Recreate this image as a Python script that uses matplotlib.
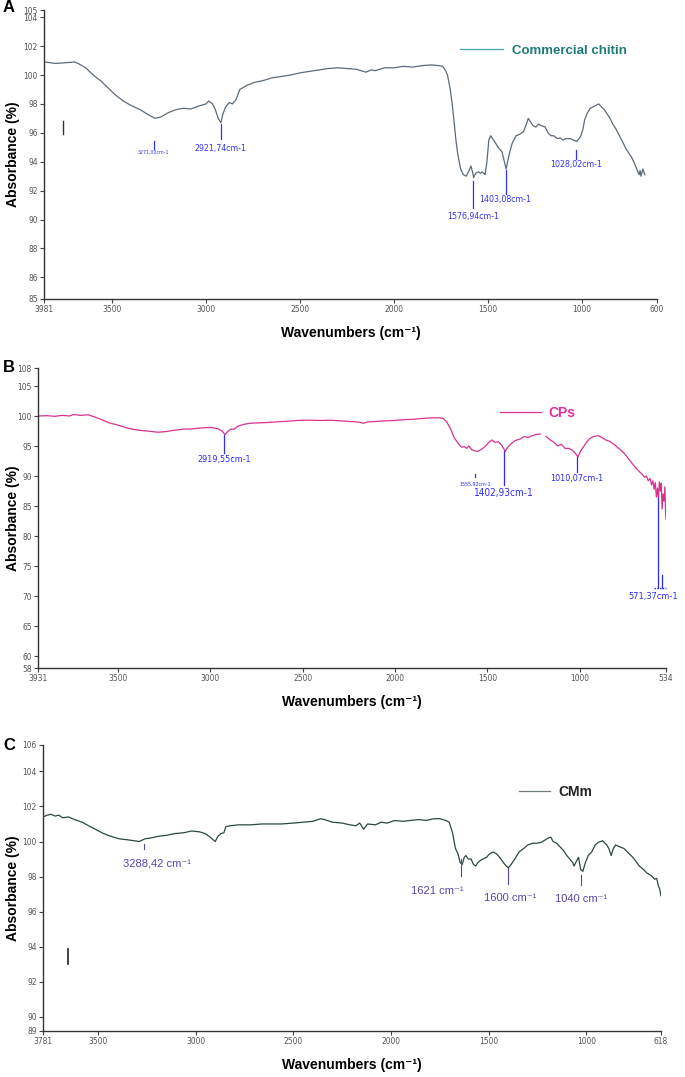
import numpy as np
import matplotlib
matplotlib.use("Agg")
import matplotlib.pyplot as plt
from matplotlib import font_manager

# ---- data: panel A (commercial chitin)
a_wn = [3855, 3800, 3750, 3700, 3680, 3640, 3600, 3560, 3520, 3480, 3440, 3400, 3350, 3300, 3271,
        3240, 3200, 3160, 3120, 3080, 3040, 3000, 2985, 2965, 2950, 2935, 2921, 2910, 2895, 2875,
        2860, 2840, 2820, 2780, 2740, 2700, 2650, 2600, 2550, 2500, 2450, 2400, 2350, 2300, 2250,
        2200, 2150, 2120, 2100, 2050, 2000, 1950, 1900, 1850, 1800, 1760, 1740, 1725, 1715, 1700,
        1690, 1680, 1670, 1660, 1645, 1630, 1615, 1600, 1590, 1580, 1576, 1565, 1550, 1540, 1530,
        1515, 1505, 1495, 1485, 1470, 1455, 1440, 1425, 1412, 1403, 1395, 1385, 1370, 1350, 1330,
        1310, 1295, 1285, 1275, 1260, 1245, 1230, 1215, 1195, 1180, 1165, 1150, 1130, 1115, 1100,
        1085, 1060, 1045, 1035, 1028, 1015, 1005, 995, 985, 970, 955, 940, 925, 910, 896,
        880, 865, 850, 835, 820, 800, 780, 765, 750, 735, 720, 705, 695, 690, 685,
        675, 665]
a_abs = [100.9, 100.8, 100.85, 100.9, 100.8, 100.5, 100.0, 99.6, 99.1, 98.6, 98.2, 97.9, 97.6, 97.2, 97.0,
         97.1, 97.4, 97.6, 97.7, 97.65, 97.85, 98.0, 98.2, 98.0, 97.6, 97.0, 96.7, 97.3, 97.8, 98.1,
         98.0, 98.3, 99.0, 99.3, 99.5, 99.6, 99.8, 99.9, 100.0, 100.15, 100.25, 100.35, 100.45, 100.5, 100.45,
         100.4, 100.2, 100.35, 100.3, 100.5, 100.5, 100.6, 100.55, 100.65, 100.7, 100.65, 100.6, 100.3, 100.0, 99.0,
         98.0, 96.8, 95.5, 94.5, 93.5, 93.1, 93.0, 93.4, 93.7, 93.2, 92.9, 93.2, 93.3, 93.2, 93.3,
         93.1, 94.0, 95.5, 95.8, 95.5, 95.2, 94.9, 94.7, 94.0, 93.5, 94.0, 94.6, 95.3, 95.8, 95.9,
         96.1, 96.6, 97.0, 96.8, 96.5, 96.4, 96.6, 96.5, 96.4, 96.0, 95.8, 95.8, 95.6, 95.65, 95.5,
         95.6, 95.6, 95.5, 95.45, 95.4, 95.6, 95.8, 96.2, 96.9, 97.4, 97.7, 97.8, 97.9, 98.0, 97.8,
         97.6, 97.3, 97.0, 96.6, 96.3, 95.8, 95.3, 94.9, 94.6, 94.3, 93.9, 93.4, 93.1, 93.4, 93.0,
         93.5, 93.1]
a_peaks = ["3271,00cm-1", "2921,74cm-1", "1576,94cm-1", "1403,08cm-1", "1028,02cm-1"]
a_peak_wn = [3278, 2921, 1577, 1406, 1031]
a_peak_top = [95.4, 96.6, 92.7, 93.4, 94.8]
a_peak_bot = [94.9, 95.6, 90.8, 91.8, 94.2]
a_peak_txt = [94.65, 94.9, 90.2, 91.4, 93.8]
a_peak_size = [3.8, 6.3, 6.3, 6.3, 6.3]
a_xticks = [3862, 3500, 3000, 2500, 2000, 1500, 1000, 600]
a_xlabels = ["3981", "3500", "3000", "2500", "2000", "1500", "1000", "600"]
a_yticks = [84.5, 86, 88, 90, 92, 94, 96, 98, 100, 102, 104, 104.5]
a_ylabels = ["85", "86", "88", "90", "92", "94", "96", "98", "100", "102", "104", "105"]

# ---- data: panel B (CPs)
b_wn = [3931, 3880, 3840, 3800, 3760, 3740, 3700, 3660, 3620, 3580, 3540, 3500, 3460, 3420, 3380,
        3340, 3300, 3280, 3240, 3200, 3150, 3100, 3050, 3000, 2960, 2935, 2920, 2905, 2890, 2870,
        2850, 2820, 2780, 2700, 2650, 2600, 2550, 2500, 2450, 2400, 2350, 2300, 2250, 2200, 2170,
        2150, 2100, 2050, 2000, 1950, 1900, 1850, 1800, 1760, 1740, 1720, 1700, 1680, 1660, 1640,
        1625, 1612, 1600, 1585, 1570, 1555, 1540, 1525, 1510, 1490, 1476, 1460, 1440, 1420, 1403,
        1390, 1375, 1350, 1320, 1300, 1280, 1260, 1240, 1213, 1200, 1183, 1160, 1140, 1120, 1100,
        1080, 1060, 1040, 1025, 1010, 995, 980, 960, 944, 925, 898, 880, 860, 840, 812,
        790, 760, 740, 710, 690, 667, 650, 640, 630, 620, 612, 605, 598, 592, 586,
        580, 575, 570, 565, 560, 555, 550, 545, 540, 536, 534]
b_abs = [100.0, 100.05, 99.95, 100.1, 100.0, 100.25, 100.1, 100.2, 99.8, 99.3, 98.8, 98.5, 98.1, 97.8, 97.6,
         97.5, 97.35, 97.3, 97.4, 97.6, 97.8, 97.85, 98.0, 98.1, 97.9, 97.5, 96.9, 97.4, 97.8, 97.8,
         98.3, 98.6, 98.8, 98.9, 99.0, 99.1, 99.2, 99.3, 99.3, 99.25, 99.3, 99.2, 99.1, 99.0, 98.8,
         99.0, 99.1, 99.2, 99.25, 99.4, 99.45, 99.6, 99.7, 99.7, 99.6, 99.0, 97.9, 96.4, 95.5, 94.8,
         94.9, 94.6, 95.0, 94.4, 94.2, 94.1, 94.3, 94.6, 95.0, 95.7, 96.0, 95.6, 95.7, 95.0, 94.1,
         94.8, 95.3, 95.9, 96.2, 96.6, 96.4, 96.7, 96.9, 97.0, np.nan, 96.6, 96.0, 95.6, 95.0, 95.3,
         94.6, 94.6, 94.3, 93.8, 93.2, 94.2, 94.9, 95.8, 96.3, 96.6, 96.7, 96.4, 96.0, 95.8, 95.2,
         94.6, 93.8, 93.0, 91.8, 91.1, 90.4, 89.8, 90.0, 89.2, 89.6, 88.5, 89.2, 87.8, 88.9, 86.5,
         88.0, 86.2, 89.0, 87.5, 88.8, 84.5, 87.0, 85.8, 88.2, 83.5, 82.8]
b_peaks = ["2919,55cm-1", "1555,92cm-1", "1402,93cm-1", "1010,07cm-1", "571,37cm-1"]
b_peak_wn = [2925, 1566, 1410, 1017, 577]
b_peak_top = [96.8, 90.4, 94.1, 93.2, 86.3]
b_peak_bot = [93.8, 89.8, 88.5, 90.7, 71.3]
b_txt_wn = [2925, 1566, 1410, 1017, 604]
b_peak_txt = [92.7, 88.7, 87.1, 89.6, 69.9]
b_peak_size = [6.5, 3.8, 7.2, 6.5, 6.6]
b_xticks = [3931, 3500, 3000, 2500, 2000, 1500, 1000, 534]
b_yticks = [58, 60, 65, 70, 75, 80, 85, 90, 95, 100, 105, 108]

# ---- data: panel C (CMm)
c_wn = [3781, 3760, 3740, 3720, 3700, 3680, 3650, 3620, 3580, 3540, 3513, 3480, 3448, 3420, 3390,
        3350, 3320, 3288, 3260, 3230, 3190, 3150, 3108, 3060, 3020, 2980, 2950, 2920, 2900, 2885,
        2870, 2855, 2845, 2820, 2780, 2720, 2660, 2620, 2560, 2500, 2450, 2400, 2360, 2340, 2300,
        2250, 2210, 2180, 2160, 2140, 2120, 2080, 2050, 2020, 1980, 1940, 1900, 1860, 1820, 1780,
        1750, 1720, 1702, 1685, 1670, 1657, 1646, 1635, 1625, 1617, 1605, 1590, 1578, 1567, 1555,
        1545, 1530, 1511, 1495, 1477, 1460, 1444, 1425, 1410, 1399, 1385, 1366, 1345, 1321, 1300,
        1276, 1255, 1231, 1210, 1195, 1182, 1170, 1152, 1135, 1118, 1100, 1085, 1070, 1063, 1050,
        1040, 1029, 1018, 1005, 990, 973, 955, 940, 925, 918, 905, 895, 885, 873, 862,
        851, 830, 807, 785, 762, 745, 729, 718, 707, 690, 674, 662, 651, 640, 632,
        625, 618]
c_abs = [101.4, 101.5, 101.55, 101.45, 101.5, 101.35, 101.4, 101.25, 101.1, 100.85, 100.7, 100.5, 100.35, 100.25, 100.15,
         100.1, 100.05, 100.0, 100.15, 100.2, 100.3, 100.35, 100.45, 100.5, 100.6, 100.55, 100.45, 100.2, 100.0, 100.3,
         100.45, 100.5, 100.85, 100.9, 100.95, 100.95, 101.0, 101.0, 101.0, 101.05, 101.1, 101.15, 101.3, 101.25, 101.1,
         101.05, 100.95, 100.9, 101.05, 100.7, 101.0, 100.95, 101.1, 101.05, 101.2, 101.15, 101.2, 101.25, 101.2, 101.3,
         101.3, 101.2, 101.1, 100.5, 99.6, 99.3, 98.8, 98.7, 99.1, 99.2, 99.0, 99.0, 98.7, 98.6, 98.8,
         98.9, 99.0, 99.1, 99.3, 99.4, 99.3, 99.1, 98.8, 98.6, 98.5, 98.7, 99.0, 99.4, 99.6, 99.8,
         99.9, 99.9, 99.95, 100.1, 100.2, 100.25, 100.0, 99.9, 99.7, 99.5, 99.2, 99.0, 98.8, 98.6, 98.9,
         99.1, 98.4, 98.3, 98.8, 99.2, 99.4, 99.8, 99.95, 100.0, 100.05, 99.9, 99.8, 99.6, 99.2, 99.6,
         99.8, 99.7, 99.6, 99.35, 99.1, 98.85, 98.6, 98.5, 98.4, 98.2, 98.1, 98.0, 97.85, 97.9, 97.5,
         97.3, 96.9]
c_peaks = ["3288,42 cm⁻¹", "1621 cm⁻¹", "1600 cm⁻¹", "1040 cm⁻¹"]
c_peak_wn = [3266, 1640, 1399, 1029]
c_peak_top = [99.85, 99.0, 98.5, 98.1]
c_peak_bot = [99.55, 98.05, 97.6, 97.5]
c_txt_wn = [3200, 1762, 1392, 1029]
c_peak_txt = [98.75, 97.2, 96.8, 96.75]
c_xticks = [3781, 3500, 3000, 2500, 2000, 1500, 1000, 618]
c_yticks = [89.2, 90, 92, 94, 96, 98, 100, 102, 104, 105.5]
c_ylabels = ["89", "90", "92", "94", "96", "98", "100", "102", "104", "106"]

# ---- fonts
names = {f.name for f in font_manager.fontManager.ttflist}
narrow = ["Liberation Sans Narrow", "DejaVu Sans"] if "Liberation Sans Narrow" in names else ["DejaVu Sans"]
bold_fam = ["Liberation Sans", "DejaVu Sans"]
plt.rcParams["font.family"] = bold_fam

W, H = 685, 1077
fig = plt.figure(figsize=(W / 100, H / 100), dpi=100)


def make_ax(l, r, t, b):
    return fig.add_axes([l / W, 1 - b / H, (r - l) / W, (b - t) / H])


def style(ax, xlim, ylim, xt, xl, yt, yl, box):
    l, r, t, b = box
    ax.set_xlim(*xlim)
    ax.set_ylim(*ylim)
    for s in ["top", "right"]:
        ax.spines[s].set_visible(False)
    for s in ["left", "bottom"]:
        ax.spines[s].set_color("#333333")
        ax.spines[s].set_linewidth(1.0)
    ax.set_xticks(xt)
    ax.set_xticklabels(xl, family=narrow, fontsize=6.0, color="#555555", stretch="condensed")
    ax.set_yticks(yt)
    ax.set_yticklabels(yl, family=narrow, fontsize=6.0, color="#555555", stretch="condensed")
    ax.tick_params(length=3, width=0.8, color="#444444", pad=1.5)
    ax.set_xlabel("Wavenumbers (cm⁻¹)", fontsize=10, fontweight="bold", family=bold_fam)
    # label top ~27 px below the axis line
    ax.xaxis.set_label_coords(0.5, -27 / (b - t))
    ax.set_ylabel("Absorbance (%)", fontsize=10, fontweight="bold", family=bold_fam)
    # right edge of rotated label at x ~ 20 px
    ax.yaxis.set_label_coords((20 - l) / (r - l), 0.5)


# panel A
box_a = (44, 657, 10, 299)
axa = make_ax(*box_a)
axa.plot(a_wn, a_abs, color="#5c6b7a", lw=0.9, label="Commercial chitin")
style(axa, (3862, 600), (84.5, 104.5), a_xticks, a_xlabels, a_yticks, a_ylabels, box_a)
for lab, w, t0, t1, ty, fs in zip(a_peaks, a_peak_wn, a_peak_top, a_peak_bot, a_peak_txt, a_peak_size):
    axa.plot([w, w], [t0, t1], color="#3333ff", lw=0.9)
    axa.text(w, ty, lab, color="#3333ff", fontsize=fs, family=narrow, stretch="condensed",
             ha="center", va="center")
axa.plot([3761, 3761], [96.8, 95.9], color="#333333", lw=1.0)
leg = axa.legend(frameon=False, loc="center left", bbox_to_anchor=(0.66, 0.86),
                 handlelength=3.2, handletextpad=0.7, prop={"size": 9.5, "weight": "bold"})
leg.get_lines()[0].set_color("#4aa6a6")
leg.get_texts()[0].set_color("#1d7b74")

# panel B
box_b = (38, 666, 368, 668)
axb = make_ax(*box_b)
axb.plot(b_wn, b_abs, color="#d8328e", lw=0.9, label="CPs")
style(axb, (3931, 534), (58, 108), b_xticks, [str(v) for v in b_xticks], b_yticks,
      [str(v) for v in b_yticks], box_b)
for lab, w, t0, t1, tw, ty, fs in zip(b_peaks, b_peak_wn, b_peak_top, b_peak_bot, b_txt_wn,
                                      b_peak_txt, b_peak_size):
    axb.plot([w, w], [t0, t1], color="#2b2bff", lw=0.9)
    axb.text(tw, ty, lab, color="#2b2bff", fontsize=fs, family=narrow, stretch="condensed",
             ha="center", va="center")
axb.plot([553, 553], [73.5, 71.3], color="#2b2bff", lw=0.9)
axb.plot([601, 534], [71.3, 71.3], color="#2b2bff", lw=1.0, ls=(0, (1, 1)), clip_on=False)
leg = axb.legend(frameon=False, loc="center left", bbox_to_anchor=(0.715, 0.85),
                 handlelength=3.0, handletextpad=0.5, prop={"size": 10, "weight": "bold"})
leg.get_lines()[0].set_color("#d8328e")
leg.get_texts()[0].set_color("#e02f9c")

# panel C
box_c = (43, 661, 745, 1031)
axc = make_ax(*box_c)
axc.plot(c_wn, c_abs, color="#2c4842", lw=0.9, label="CMm")
style(axc, (3781, 618), (89.2, 105.5), c_xticks, [str(v) for v in c_xticks], c_yticks, c_ylabels, box_c)
for lab, w, t0, t1, tw, ty in zip(c_peaks, c_peak_wn, c_peak_top, c_peak_bot, c_txt_wn, c_peak_txt):
    axc.plot([w, w], [t0, t1], color="#5546b0", lw=0.8)
    axc.text(tw, ty, lab, color="#5546b0", fontsize=8, family=["Liberation Sans", "DejaVu Sans"],
             ha="center", va="center")
axc.plot([3654, 3654], [93.9, 93.0], color="#222222", lw=1.2)
leg = axc.legend(frameon=False, loc="center left", bbox_to_anchor=(0.75, 0.835),
                 handlelength=2.2, handletextpad=0.6, prop={"size": 10, "weight": "bold"})
leg.get_lines()[0].set_color("#6f7d7a")
leg.get_texts()[0].set_color("#222222")

# panel letters
for lab, y in zip(["A", "B", "C"], [8, 367, 745]):
    fig.text(3 / W, 1 - y / H, lab, fontsize=12, fontweight="bold", va="center", ha="left")

fig.savefig("out.png", dpi=100)
